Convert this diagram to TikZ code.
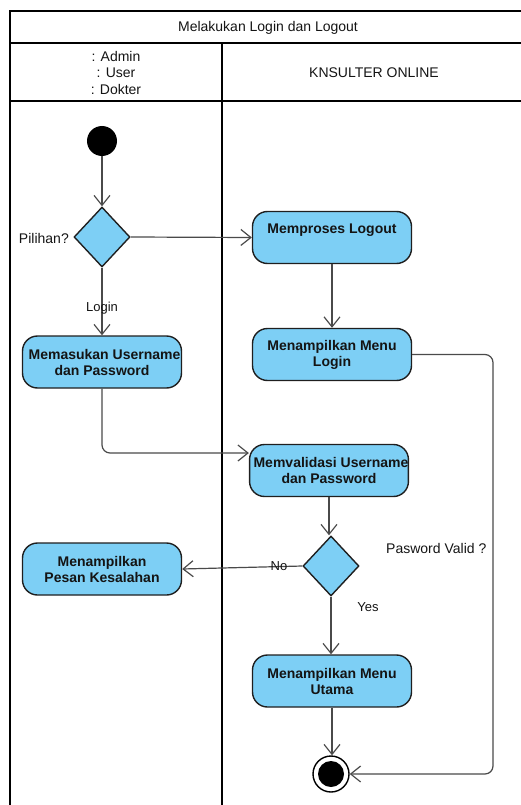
\documentclass[tikz,border=0pt]{standalone}
\usepackage{fontspec}
\setmainfont{Liberation Sans}
\usetikzlibrary{shapes.geometric,arrows.meta}
\definecolor{actfill}{HTML}{7DCFF5}
\definecolor{linegray}{HTML}{4A4A4A}
\definecolor{txt}{HTML}{141414}
\begin{document}
\begin{tikzpicture}[x=1pt,y=-1pt,
  frame/.style={line width=2pt,black},
  action/.style={draw=black!88,line width=1.4pt,fill=actfill,rounded corners=15pt,
    minimum width=159pt,minimum height=52pt,inner sep=0pt,align=center,
    font=\fontsize{14}{16}\selectfont\bfseries,text=txt},
  decision/.style={diamond,draw=black!88,line width=1.4pt,fill=actfill,
    minimum width=56pt,minimum height=60pt,inner sep=0pt},
  flow/.style={draw=linegray,line width=1.2pt,
    -{Straight Barb[length=10pt,width=16pt,line width=1.2pt]}},
  lbl/.style={font=\fontsize{14}{16.5}\selectfont,text=txt,inner sep=0pt},
  small/.style={font=\fontsize{13}{15}\selectfont,text=txt,inner sep=0pt}]
\useasboundingbox (0,0) rectangle (520,805);

% swimlane frame
\draw[frame] (10,805) -- (10,11) -- (526,11);
\draw[frame] (10,43) -- (526,43);
\draw[frame] (10,101) -- (526,101);
\draw[frame] (222,43) -- (222,805);

\node[lbl] (title) at (268,27.5) {Melakukan Login dan Logout};
\node[lbl,align=center] (actor) at (116,72.5) {: Admin\\: User\\: Dokter};
\node[lbl] (system) at (374,72.5) {KNSULTER ONLINE};

% activity nodes
\node[circle,fill=black,minimum size=30pt,inner sep=0pt] (start) at (102,141) {};
\node[decision] (pilih) at (102,237) {};
\node[lbl,anchor=east] (pilihlbl) at (69,238) {Pilihan?};

\node[action] (logout) at (332,237.5) {Memproses Logout\\[1pt]\mbox{}};
\node[action] (menulogin) at (332,354.5) {Menampilkan Menu\\Login};
\node[action] (masuk) at (102,362) {\hspace*{5pt}Memasukan Username\\dan Password};
\node[action,minimum width=158pt] (validasi) at (329,470.5) {\hspace*{4pt}Memvalidasi Username\\dan Password};
\node[decision] (valid) at (331,566) {};
\node[lbl,anchor=west] (validlbl) at (386,548) {Pasword Valid ?};
\node[action] (pesan) at (102,569) {Menampilkan\\Pesan Kesalahan};
\node[action] (utama) at (332,681) {Menampilkan Menu\\Utama};

\node[circle,draw=black,line width=1.4pt,fill=white,minimum size=36pt,inner sep=0pt] (end) at (331,774) {};
\node[circle,fill=black,minimum size=26pt,inner sep=0pt] (endcore) at (end.center) {};

\coordinate (rail) at (493,0);

% control flow
\draw[flow] (start) -- (pilih.north);
\draw[flow] (pilih.east) -- (logout.west);
\draw[flow] (pilih.south) -- (masuk.north);
\node[small] (loginlbl) at (102,308) {Login};
\draw[flow] (logout.south) -- (menulogin.north);
\draw[flow,rounded corners=8pt] (menulogin.east) -| (rail |- end.east) -- (end.east);
\draw[flow,rounded corners=8pt] (masuk.south) |- ([yshift=17.5pt]validasi.west);
\draw[flow] (validasi.south) -- (validasi.south |- valid.north);
\draw[flow] (valid.west) -- (pesan.east);
\node[small] (nolbl) at (279,566) {No};
\draw[flow] (valid.south) -- (valid.south |- utama.north);
\node[small] (yeslbl) at (368,607) {Yes};
\draw[flow] (utama.south) -- (utama.south |- end.north);
\end{tikzpicture}
\end{document}
